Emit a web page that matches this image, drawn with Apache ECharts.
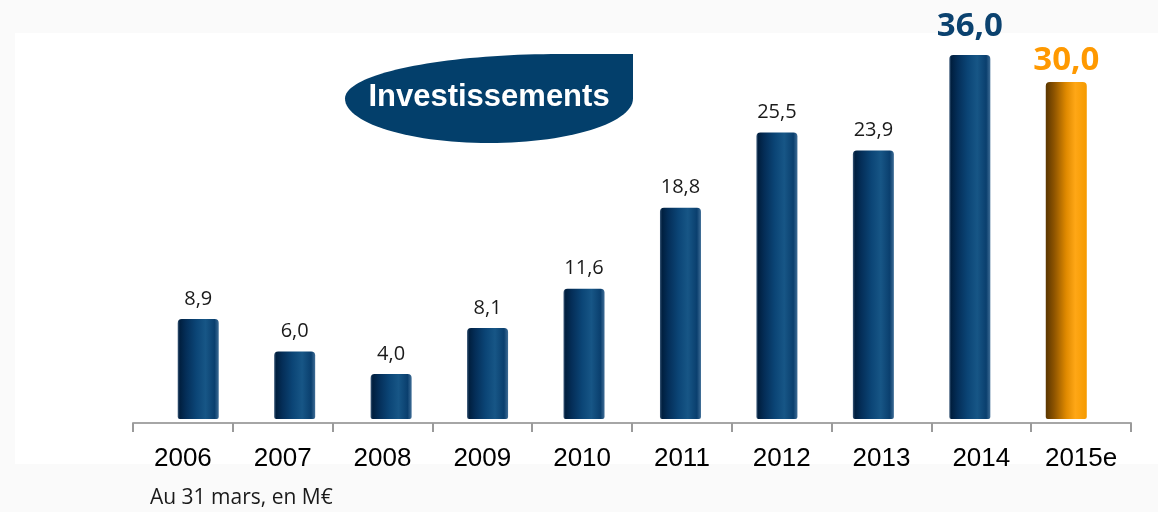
<!DOCTYPE html>
<html>
<head>
<meta charset="utf-8">
<script src="https://cdn.jsdelivr.net/npm/echarts@6/dist/echarts.min.js"></script>
<style>
  html, body { margin: 0; padding: 0; background: #fafafa; }
  #chart { width: 1158px; height: 512px; }
</style>
</head>
<body>
<div id="chart"></div>
<script>
var years = ["2006", "2007", "2008", "2009", "2010", "2011", "2012", "2013", "2014", "2015e"];
var invest = [8.9, 6.0, 4.0, 8.1, 11.6, 18.8, 25.5, 23.9, 36.0, 30.0];
var title = "Investissements";
var note = "Au 31 mars, en M€";

var chart = echarts.init(document.getElementById("chart"));

// cylindre bleu / orange (dégradé horizontal)
var blueCyl = new echarts.graphic.LinearGradient(0, 0, 1, 0, [
  { offset: 0, color: "#3a5878" },
  { offset: 0.05, color: "#001f3f" },
  { offset: 0.2, color: "#042e58" },
  { offset: 0.45, color: "#0b4576" },
  { offset: 0.68, color: "#175686" },
  { offset: 0.9, color: "#0a3f6e" },
  { offset: 1, color: "#3f6d96" },
]);
var orangeCyl = new echarts.graphic.LinearGradient(0, 0, 1, 0, [
  { offset: 0, color: "#5a3600" },
  { offset: 0.2, color: "#8c5300" },
  { offset: 0.5, color: "#e08a00" },
  { offset: 0.72, color: "#ffa716" },
  { offset: 1, color: "#f59a00" },
]);

function fmt(v) {
  return v.toFixed(1).replace(".", ",");
}

// forme du titre : bas en demi-ellipse, haut plus allongé, coin haut-droit carré
function titleShape() {
  var pts = [[633, 54]];
  var k, a;
  // bord droit puis bas : ellipse centre 489, rx 144
  for (k = 0; k <= 60; k++) {
    a = (k / 60) * Math.PI;
    pts.push([k === 0 ? 633 : 489 + 144 * Math.cos(a), 98.5 + 44.5 * Math.sin(a)]);
  }
  // haut gauche : ellipse centre 560, rx 215
  for (k = 1; k <= 40; k++) {
    a = Math.PI + (k / 40) * (Math.PI / 2);
    pts.push([560 + 215 * Math.cos(a), 98.5 + 44.5 * Math.sin(a)]);
  }
  return pts;
}

var barData = invest.map(function (v, i) {
  var item = { value: v, itemStyle: { color: i === 9 ? orangeCyl : blueCyl } };
  if (i === 8) {
    item.label = { fontSize: 33, fontWeight: "bold", color: "#0b426f", distance: 12 };
  } else if (i === 9) {
    item.label = { fontSize: 33, fontWeight: "bold", color: "#ff9900", distance: 5 };
  }
  return item;
});

var option = {
  backgroundColor: "#fafafa",
  animation: false,
  graphic: [
    {
      type: "rect",
      z: 0,
      shape: { x: 15, y: 33, width: 1143, height: 431 },
      style: { fill: "#ffffff" },
    },
    {
      type: "polygon",
      z: 10,
      shape: { points: titleShape() },
      style: { fill: "#033f6b" },
    },
    {
      type: "text",
      z: 11,
      x: 489,
      y: 97,
      style: {
        text: title,
        fill: "#ffffff",
        font: "bold 31px 'Liberation Sans', Arial, sans-serif",
        align: "center",
        verticalAlign: "middle",
      },
    },
    {
      type: "text",
      z: 11,
      x: 150,
      y: 498,
      style: {
        text: note,
        fill: "#1a1a1a",
        font: "21px 'Open Sans', sans-serif",
        align: "left",
        verticalAlign: "middle",
      },
    },
  ],
  grid: [
    { left: 150, right: 43.5, top: 55, bottom: 93 },
    { left: 133, right: 27, top: 55, bottom: 89 },
  ],
  xAxis: [
    {
      type: "category",
      gridIndex: 0,
      data: years,
      show: false,
    },
    {
      type: "category",
      gridIndex: 1,
      data: years,
      axisLine: { show: true, lineStyle: { color: "#a6a6a6", width: 2 } },
      axisTick: { show: true, length: 9, lineStyle: { color: "#9a9a9a", width: 2 } },
      axisLabel: {
        color: "#000",
        fontSize: 26,
        fontFamily: "'Liberation Sans', Arial, sans-serif",
        margin: 23,
        interval: 0,
      },
    },
  ],
  yAxis: [
    { type: "value", gridIndex: 0, min: 0, max: 32.4, show: false },
    { type: "value", gridIndex: 1, min: 0, max: 32.4, show: false },
  ],
  series: [
    {
      type: "bar",
      xAxisIndex: 0,
      yAxisIndex: 0,
      barWidth: 41,
      clip: true,
      data: barData,
      itemStyle: { borderRadius: [4, 4, 2, 2] },
      label: {
        show: true,
        position: "top",
        distance: 10,
        fontSize: 20,
        fontFamily: "'Open Sans', sans-serif",
        color: "#1a1a1a",
        formatter: function (p) {
          return fmt(p.value);
        },
      },
    },
  ],
};

chart.setOption(option);
</script>
</body>
</html>
